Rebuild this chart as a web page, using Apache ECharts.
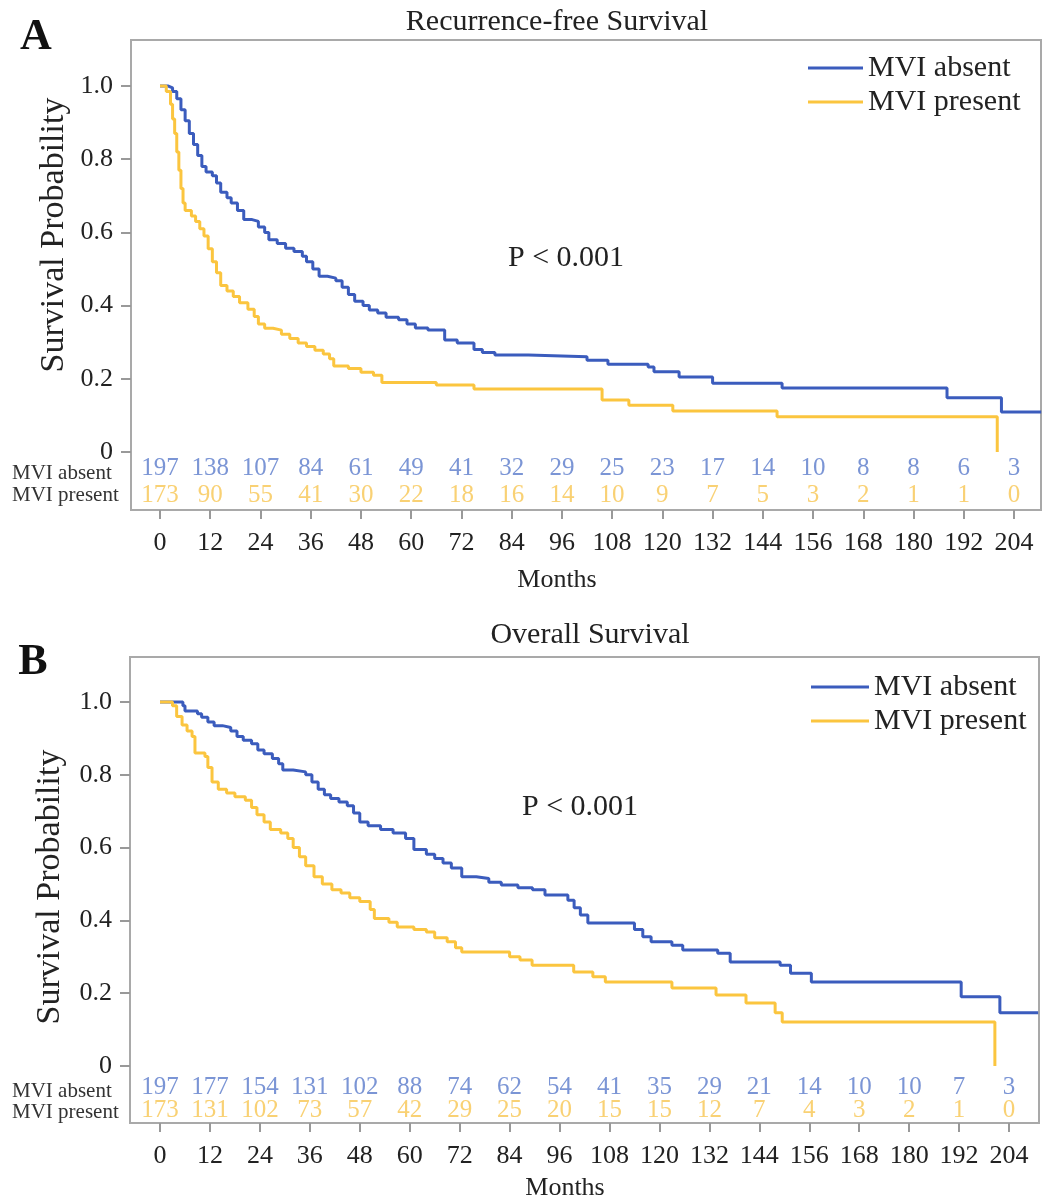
<!DOCTYPE html>
<html>
<head>
<meta charset="utf-8">
<script src="https://cdn.jsdelivr.net/npm/echarts@6/dist/echarts.min.js"></script>
<style>
  html, body { margin: 0; background: #fff; }
  #main { width: 1042px; height: 1201px; }
</style>
</head>
<body>
<div id="main"></div>
<script>
// tick months and number-at-risk tables
const months = [0, 12, 24, 36, 48, 60, 72, 84, 96, 108, 120, 132, 144, 156, 168, 180, 192, 204];
const yTicks = [0, 0.2, 0.4, 0.6, 0.8, 1.0];
const rfsAbsentRisk = [197, 138, 107, 84, 61, 49, 41, 32, 29, 25, 23, 17, 14, 10, 8, 8, 6, 3];
const rfsPresentRisk = [173, 90, 55, 41, 30, 22, 18, 16, 14, 10, 9, 7, 5, 3, 2, 1, 1, 0];
const osAbsentRisk = [197, 177, 154, 131, 102, 88, 74, 62, 54, 41, 35, 29, 21, 14, 10, 10, 7, 3];
const osPresentRisk = [173, 131, 102, 73, 57, 42, 29, 25, 20, 15, 15, 12, 7, 4, 3, 2, 1, 0];

// Kaplan-Meier steps (months, survival)
const rfsAbsentT = [0, 2, 3, 4, 5, 6, 7, 8, 9, 10, 11, 12.5, 13.5, 14.5, 16, 17, 18.5, 20, 22, 23.5, 25, 26, 28, 30, 32, 34, 35, 36.5, 38, 40, 42, 43.5, 45, 46.5, 48.5, 50, 52, 54, 57, 59, 61, 64, 68, 71, 75, 77, 80, 88, 102, 107, 116.6, 118, 124, 132, 148.6, 188, 201, 210.5];
const rfsAbsentS = [1, 0.995, 0.985, 0.965, 0.935, 0.905, 0.87, 0.84, 0.81, 0.78, 0.765, 0.755, 0.735, 0.71, 0.695, 0.68, 0.66, 0.635, 0.63, 0.615, 0.6, 0.58, 0.57, 0.557, 0.548, 0.535, 0.52, 0.5, 0.48, 0.475, 0.468, 0.45, 0.43, 0.412, 0.4, 0.388, 0.38, 0.368, 0.361, 0.35, 0.339, 0.333, 0.306, 0.298, 0.28, 0.272, 0.265, 0.26, 0.251, 0.24, 0.232, 0.219, 0.205, 0.188, 0.175, 0.148, 0.109, 0.109];
const rfsPresentT = [0, 1.5, 2.5, 3, 3.5, 4, 4.5, 5, 5.5, 6, 7.5, 8.5, 9.5, 10.5, 11.5, 12.5, 13.5, 14.5, 16, 17.5, 19, 21, 22.5, 23.5, 25, 27, 29, 31, 33, 35, 37, 39, 40.5, 41.5, 45, 48, 51, 53, 66, 75, 105.6, 112, 122.5, 147.4, 200];
const rfsPresentS = [1, 0.985, 0.95, 0.91, 0.87, 0.82, 0.77, 0.72, 0.68, 0.66, 0.645, 0.63, 0.61, 0.59, 0.555, 0.52, 0.49, 0.455, 0.44, 0.425, 0.408, 0.39, 0.37, 0.35, 0.338, 0.333, 0.322, 0.31, 0.298, 0.288, 0.278, 0.268, 0.255, 0.235, 0.228, 0.218, 0.21, 0.19, 0.183, 0.172, 0.142, 0.128, 0.112, 0.096, 0];
const osAbsentT = [0, 5.5, 6, 9, 10, 11.5, 13, 15, 17, 18.5, 20, 22, 23.5, 25, 27, 28.5, 29.5, 32, 35, 36.5, 38, 39.5, 41, 43, 45, 46.5, 48, 50, 53, 56, 59, 61, 64, 66, 68, 70, 72.5, 76, 79, 82, 86, 89.5, 92.5, 98, 99.5, 101, 102.8, 114, 116, 118, 123, 125.6, 134, 137, 149, 151.5, 156.5, 192.5, 201.8, 211];
const osAbsentS = [1, 0.99, 0.975, 0.968, 0.958, 0.945, 0.935, 0.93, 0.92, 0.905, 0.895, 0.885, 0.868, 0.858, 0.845, 0.83, 0.813, 0.808, 0.8, 0.78, 0.76, 0.745, 0.735, 0.725, 0.715, 0.695, 0.67, 0.66, 0.65, 0.64, 0.625, 0.595, 0.582, 0.57, 0.558, 0.544, 0.52, 0.515, 0.505, 0.497, 0.49, 0.484, 0.47, 0.455, 0.435, 0.415, 0.393, 0.375, 0.355, 0.341, 0.332, 0.319, 0.31, 0.286, 0.277, 0.255, 0.231, 0.19, 0.146, 0.146];
const osPresentT = [0, 3, 4, 5.3, 6.5, 7.7, 8.4, 10.8, 11.5, 12.5, 14, 16, 18, 20.5, 22, 23.3, 25, 26.5, 29, 30.7, 32, 33.5, 35, 37, 39, 41.3, 43.5, 45.6, 48, 50.5, 51.5, 55, 57, 61, 64, 66, 69, 71, 72.5, 84, 86.5, 89.4, 99.4, 104, 107, 123, 133.6, 140.8, 147.8, 149.5, 200.6];
const osPresentS = [1, 0.99, 0.96, 0.937, 0.92, 0.905, 0.86, 0.85, 0.82, 0.78, 0.76, 0.75, 0.74, 0.73, 0.71, 0.69, 0.67, 0.65, 0.64, 0.625, 0.6, 0.575, 0.55, 0.52, 0.5, 0.484, 0.475, 0.462, 0.452, 0.43, 0.405, 0.395, 0.382, 0.375, 0.368, 0.352, 0.341, 0.325, 0.313, 0.3, 0.291, 0.277, 0.258, 0.245, 0.231, 0.214, 0.195, 0.173, 0.146, 0.121, 0];

const SERIF = "'Liberation Serif', 'Times New Roman', serif";
const BLUE = '#3b5cbd';
const YELLOW = '#fbc53f';
const BLUE_TXT = '#5a7acb';
const YELLOW_TXT = '#f7c651';
const FRAME = '#a9a9a9';

const zip = (t, s) => t.map((v, i) => [v, s[i]]);

const chart = echarts.init(document.getElementById('main'));

function xAxisCfg(idx, min, max) {
    return {
        type: 'value', gridIndex: idx, min: min, max: max, position: 'bottom',
        axisLine: { show: false, onZero: false },
        splitLine: { show: false },
        axisTick: { show: true, customValues: months, length: 9, lineStyle: { color: '#999', width: 2 } },
        axisLabel: { customValues: months, margin: 20, fontSize: 26, color: '#222', fontFamily: SERIF }
    };
}
function yAxisCfg(idx, min, max) {
    return {
        type: 'value', gridIndex: idx, min: min, max: max, position: 'left',
        axisLine: { show: false, onZero: false },
        splitLine: { show: false },
        axisTick: { show: true, customValues: yTicks, length: 10, lineStyle: { color: '#999', width: 2 } },
        axisLabel: {
            customValues: yTicks, margin: 18, fontSize: 26, color: '#222', fontFamily: SERIF,
            formatter: v => (v === 0 ? '0' : v.toFixed(1))
        }
    };
}
function kmLine(name, idx, t, s, color) {
    return {
        type: 'line', name: name, xAxisIndex: idx, yAxisIndex: idx,
        step: 'end', symbol: 'none', data: zip(t, s), clip: true,
        lineStyle: { color: color, width: 3 }, itemStyle: { color: color }, z: 3
    };
}
// number-at-risk row, placed through the axes at a fixed y below zero
function riskRow(idx, counts, yv, color) {
    return {
        type: 'scatter', xAxisIndex: idx, yAxisIndex: idx, silent: true,
        data: months.map((m, i) => [m, yv, counts[i]]),
        symbolSize: 1, itemStyle: { color: 'rgba(0,0,0,0)' },
        label: {
            show: true, position: 'inside', formatter: p => p.value[2],
            color: color, fontSize: 25, fontFamily: SERIF
        }
    };
}
function txt(x, y, text, size, opts) {
    return Object.assign({
        type: 'text', x: x, y: y,
        style: Object.assign({
            text: text, fontSize: size, fontFamily: SERIF, fill: '#222',
            textAlign: 'center', textVerticalAlign: 'middle'
        }, (opts && opts.style) || {})
    }, (opts && opts.el) || {});
}
function legendCfg(left, top, width) {
    return {
        data: [{ name: 'MVI absent', icon: 'rect' }, { name: 'MVI present', icon: 'rect' }],
        orient: 'vertical', padding: 0,
        left: left, top: top, itemWidth: width, itemHeight: 3, itemGap: 4,
        textStyle: { fontSize: 30, fontFamily: SERIF, color: '#222', lineHeight: 30 }
    };
}

const option = {
    backgroundColor: '#fff',
    animation: false,
    grid: [
        { left: 131, top: 40, right: 1, bottom: 691, show: true, borderColor: FRAME, borderWidth: 2 },
        { left: 130, top: 657, right: 3, bottom: 78, show: true, borderColor: FRAME, borderWidth: 2 }
    ],
    xAxis: [xAxisCfg(0, -6.93, 210.45), xAxisCfg(1, -7.21, 211.2)],
    yAxis: [yAxisCfg(0, -0.1585, 1.1257), yAxisCfg(1, -0.1566, 1.1236)],
    legend: [legendCfg(808, 53, 55), legendCfg(811, 672, 58)],
    series: [
        kmLine('MVI absent', 0, rfsAbsentT, rfsAbsentS, BLUE),
        kmLine('MVI present', 0, rfsPresentT, rfsPresentS, YELLOW),
        kmLine('MVI absent', 1, osAbsentT, osAbsentS, BLUE),
        kmLine('MVI present', 1, osPresentT, osPresentS, YELLOW),
        riskRow(0, rfsAbsentRisk, -0.0437, BLUE_TXT),
        riskRow(0, rfsPresentRisk, -0.1175, YELLOW_TXT),
        riskRow(1, osAbsentRisk, -0.0577, BLUE_TXT),
        riskRow(1, osPresentRisk, -0.121, YELLOW_TXT)
    ],
    graphic: [
        txt(36, 38, 'A', 44, { style: { fontWeight: 'bold', fill: '#111' } }),
        txt(33, 663, 'B', 44, { style: { fontWeight: 'bold', fill: '#111' } }),
        txt(557, 22, 'Recurrence-free Survival', 30),
        txt(590, 635, 'Overall Survival', 30),
        txt(508, 258, 'P < 0.001', 30, { style: { textAlign: 'left' } }),
        txt(522, 807, 'P < 0.001', 30, { style: { textAlign: 'left' } }),
        txt(557, 580, 'Months', 26),
        txt(565, 1188, 'Months', 26),
        txt(54, 235, 'Survival Probability', 34, { el: { rotation: Math.PI / 2 } }),
        txt(50, 887, 'Survival Probability', 34, { el: { rotation: Math.PI / 2 } }),
        txt(12, 473, 'MVI absent', 21, { style: { textAlign: 'left', fill: '#333' } }),
        txt(12, 495, 'MVI present', 21, { style: { textAlign: 'left', fill: '#333' } }),
        txt(12, 1091, 'MVI absent', 21, { style: { textAlign: 'left', fill: '#333' } }),
        txt(12, 1112, 'MVI present', 21, { style: { textAlign: 'left', fill: '#333' } })
    ]
};
chart.setOption(option);
</script>
</body>
</html>
